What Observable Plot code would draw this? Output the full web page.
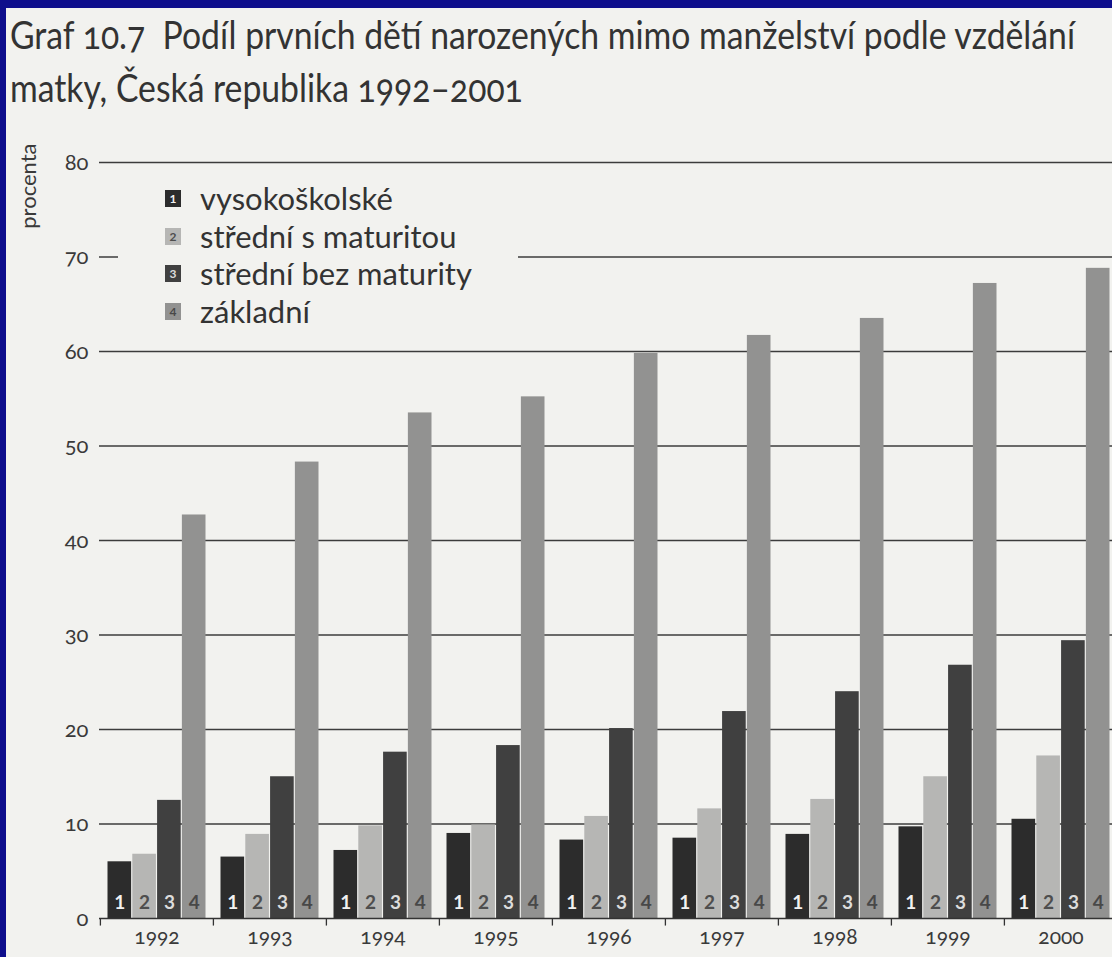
<!DOCTYPE html>
<html>
<head>
<meta charset="utf-8">
<script src="https://cdn.jsdelivr.net/npm/d3@7"></script>
<script src="https://cdn.jsdelivr.net/npm/@observablehq/plot@0.6"></script>
<style>
  html, body { margin: 0; padding: 0; width: 1112px; height: 957px; overflow: hidden; background: #0e0e8c; }
  #paper { position: absolute; left: 6px; top: 8px; width: 1300px; height: 1000px; background: #f2f2ef; }
  .tline { position: absolute; left: 10px; font-family: Lato, "Open Sans", sans-serif; color: #333; white-space: nowrap; font-feature-settings: "onum" 1; font-variant-numeric: oldstyle-nums; transform-origin: 0 0; }
  #chart { position: absolute; left: 0; top: 130px; width: 1240px; }
  #chart svg { max-width: none !important; }
  #legend { position: absolute; left: 118px; top: 178px; width: 400px; height: 152px; background: #f2f2ef; font-family: Lato, "Open Sans", sans-serif; color: #333; }
  .lrow { position: absolute; left: 0; height: 37px; width: 400px; }
  .sw { position: absolute; left: 47px; top: 10px; width: 16px; height: 17px; font: bold 12px Lato, sans-serif; display: flex; align-items: center; justify-content: center; }
  .lt { position: absolute; left: 82px; top: 0; height: 37px; line-height: 37px; white-space: nowrap; }
</style>
</head>
<body>
<div id="paper"></div>
<div id="t1" class="tline">Graf 10.7&nbsp; Podíl prvních dětí narozených mimo manželství podle vzdělání</div>
<div id="t2" class="tline">matky, Česká republika 1992–2001</div>
<div id="chart"></div>
<div id="legend"></div>
<script>
// ---- data ----
const years = [1992, 1993, 1994, 1995, 1996, 1997, 1998, 1999, 2000];
const yearDomain = [1992, 1993, 1994, 1995, 1996, 1997, 1998, 1999, 2000, 2001];
const seriesNames = ["vysokoškolské", "střední s maturitou", "střední bez maturity", "základní"];
const seriesCodes = ["1", "2", "3", "4"];
const vysokoskolske      = [6.0, 6.5, 7.2, 9.0, 8.3, 8.5, 8.9, 9.7, 10.5];
const stredniSMaturitou  = [6.8, 8.9, 9.8, 9.9, 10.8, 11.6, 12.6, 15.0, 17.2];
const stredniBezMaturity = [12.5, 15.0, 17.6, 18.3, 20.1, 21.9, 24.0, 26.8, 29.4];
const zakladni           = [42.7, 48.3, 53.5, 55.2, 59.8, 61.7, 63.5, 67.2, 68.8];
const yTicks = [0, 10, 20, 30, 40, 50, 60, 70, 80];

// ---- styles ----
const fills = ["#2c2c2c", "#b6b6b4", "#404040", "#929291"];
const codeColors = ["#f2f2f2", "#4e4e4e", "#dcdcdc", "#484848"];

const seriesValues = [vysokoskolske, stredniSMaturitou, stredniBezMaturity, zakladni];
const rows = [];
seriesValues.forEach((vals, s) => vals.forEach((v, i) => rows.push({year: years[i], s, series: seriesNames[s], code: seriesCodes[s], value: v})));

// layout
const marginLeft = 99, width = 1240, marginRight = 9;
const pInner = 0.124, pOuter = pInner / 2;
const step = (width - marginRight - marginLeft) / (yearDomain.length - pInner + 2 * pOuter);
const bw = step * (1 - pInner);
const w = bw / 4;
const font = "Lato, sans-serif";

const marks = [
  Plot.ruleY(yTicks.filter(d => d > 0), {stroke: "#3c3c3c", strokeWidth: 1.4}),
  ...seriesNames.map((name, s) =>
    Plot.barY(rows.filter(r => r.s === s), {
      x: "year", y: "value", fill: fills[s],
      insetLeft: s * w + 0.5, insetRight: (3 - s) * w + 0.5
    })
  ),
  ...seriesNames.map((name, s) =>
    Plot.text(rows.filter(r => r.s === s), {
      x: "year", y: 0, text: "code", fill: codeColors[s],
      dx: (s - 1.5) * w, dy: -16, fontSize: 19, fontWeight: "bold", fontFamily: font
    })
  ),
  Plot.ruleY([0], {stroke: "#333", strokeWidth: 1.5}),
  Plot.ruleX(yearDomain, {x: d => d, y1: 0, y2: -0.8, dx: -step / 2, stroke: "#333", strokeWidth: 1.3}),
  Plot.axisX({ticks: years, tickSize: 0, tickPadding: 11, fontSize: 21, fill: "#3a3a3a", fontFamily: font, fontVariant: "oldstyle-nums", label: null, tickFormat: d => String(d)}),
  Plot.axisY({ticks: yTicks, tickSize: 0, tickPadding: 11, fontSize: 22, fill: "#3a3a3a", fontFamily: font, fontVariant: "oldstyle-nums", label: null}),
  Plot.text(["procenta"], {text: d => d, frameAnchor: "top-left", rotate: -90, textAnchor: "end", dx: -79, dy: -19, fontSize: 22, fill: "#3a3a3a", fontFamily: font})
];

const chart = Plot.plot({
  width, height: 827,
  marginLeft, marginRight, marginTop: 32, marginBottom: 39,
  style: {background: "transparent", fontFamily: font, overflow: "visible", maxWidth: "none"},
  x: {type: "band", domain: yearDomain, paddingInner: pInner, paddingOuter: pOuter, axis: null},
  y: {domain: [0, 80], axis: null},
  marks
});
chart.style.maxWidth = "none";
document.getElementById("chart").appendChild(chart);

// legend
const legend = document.getElementById("legend");
const texts = [];
seriesNames.forEach((name, s) => {
  const row = document.createElement("div");
  row.className = "lrow";
  row.style.top = (2 + s * 37.5) + "px";
  const sw = document.createElement("div");
  sw.className = "sw";
  sw.style.background = fills[s];
  sw.style.color = codeColors[s];
  sw.textContent = seriesCodes[s];
  const t = document.createElement("div");
  t.className = "lt";
  t.textContent = name;
  row.appendChild(sw); row.appendChild(t);
  legend.appendChild(row);
  texts.push(t);
});
texts[2].style.fontSize = "24px";
const lfs = 24 * 272 / texts[2].getBoundingClientRect().width;
texts.forEach(t => t.style.fontSize = lfs + "px");

// title: larger type, horizontally condensed to the reference line width
const t1 = document.getElementById("t1"), t2 = document.getElementById("t2");
const tfs = 38;
[t1, t2].forEach(t => { t.style.fontSize = tfs + "px"; t.style.lineHeight = "1"; });
const sx = 1065 / t1.getBoundingClientRect().width;
[t1, t2].forEach(t => t.style.transform = `scaleX(${sx})`);
t1.style.top = "15px";
t2.style.top = "68px";
</script>
</body>
</html>
